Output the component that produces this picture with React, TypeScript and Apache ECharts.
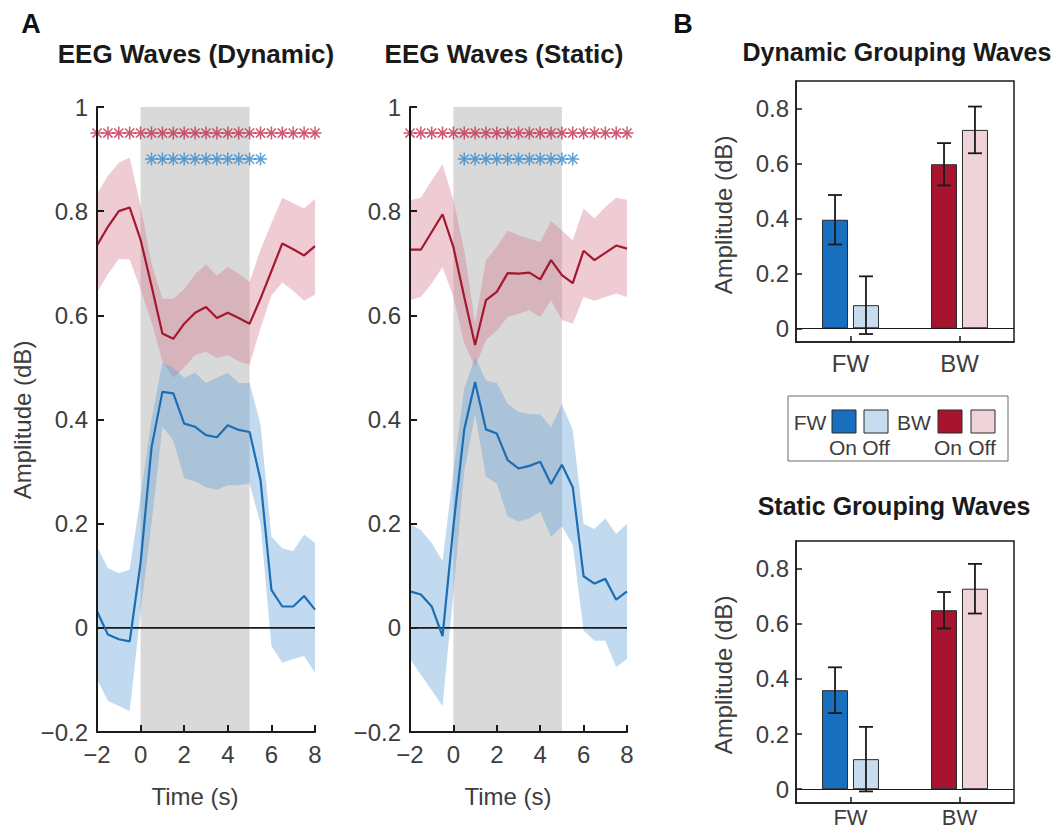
import React, { useEffect, useRef } from "react";
import * as echarts from "echarts";

// ---- time course data (s) ----
const TIME = [-2, -1.5, -1, -0.5, 0, 0.5, 1, 1.5, 2, 2.5, 3, 3.5, 4, 4.5, 5, 5.5, 6, 6.5, 7, 7.5, 8];

// Dynamic condition: backward waves (red) and forward waves (blue)
const DYN_BW_MEAN = [0.734, 0.77, 0.8, 0.807, 0.745, 0.657, 0.565, 0.555, 0.584, 0.605, 0.616, 0.595, 0.605, 0.595, 0.584, 0.632, 0.685, 0.738, 0.727, 0.715, 0.733];
const DYN_BW_HI = [0.833, 0.868, 0.893, 0.903, 0.81, 0.7, 0.632, 0.632, 0.65, 0.679, 0.698, 0.676, 0.693, 0.68, 0.664, 0.726, 0.777, 0.826, 0.815, 0.805, 0.824];
const DYN_BW_LO = [0.644, 0.679, 0.708, 0.707, 0.65, 0.587, 0.512, 0.48, 0.5, 0.524, 0.53, 0.518, 0.524, 0.512, 0.505, 0.575, 0.638, 0.663, 0.647, 0.628, 0.64];
const DYN_FW_MEAN = [0.032, -0.013, -0.022, -0.026, 0.125, 0.346, 0.453, 0.45, 0.392, 0.386, 0.37, 0.366, 0.389, 0.38, 0.376, 0.284, 0.073, 0.041, 0.041, 0.061, 0.035];
const DYN_FW_HI = [0.156, 0.115, 0.105, 0.112, 0.252, 0.4, 0.51, 0.5, 0.48, 0.49, 0.47, 0.48, 0.49, 0.47, 0.47, 0.39, 0.175, 0.153, 0.147, 0.179, 0.163];
const DYN_FW_LO = [-0.099, -0.14, -0.15, -0.16, 0.03, 0.2, 0.386, 0.36, 0.287, 0.281, 0.27, 0.265, 0.274, 0.274, 0.277, 0.2, -0.035, -0.067, -0.06, -0.054, -0.086];

// Static condition
const STA_BW_MEAN = [0.726, 0.726, 0.76, 0.794, 0.731, 0.635, 0.543, 0.629, 0.645, 0.681, 0.68, 0.682, 0.669, 0.706, 0.677, 0.662, 0.724, 0.706, 0.72, 0.734, 0.728];
const STA_BW_HI = [0.821, 0.826, 0.859, 0.89, 0.821, 0.725, 0.585, 0.706, 0.731, 0.763, 0.754, 0.747, 0.741, 0.781, 0.763, 0.744, 0.805, 0.786, 0.808, 0.826, 0.822];
const STA_BW_LO = [0.629, 0.635, 0.661, 0.693, 0.635, 0.546, 0.501, 0.552, 0.571, 0.597, 0.603, 0.61, 0.597, 0.629, 0.591, 0.584, 0.635, 0.628, 0.635, 0.642, 0.635];
const STA_FW_MEAN = [0.07, 0.064, 0.041, -0.016, 0.195, 0.381, 0.472, 0.381, 0.373, 0.322, 0.306, 0.311, 0.319, 0.276, 0.313, 0.27, 0.099, 0.085, 0.094, 0.054, 0.07];
const STA_FW_HI = [0.2, 0.188, 0.163, 0.128, 0.3, 0.46, 0.52, 0.475, 0.47, 0.43, 0.415, 0.41, 0.41, 0.385, 0.43, 0.38, 0.2, 0.19, 0.21, 0.18, 0.2];
const STA_FW_LO = [-0.06, -0.09, -0.12, -0.15, 0.067, 0.3, 0.41, 0.29, 0.277, 0.214, 0.204, 0.21, 0.223, 0.175, 0.195, 0.16, -0.005, -0.025, -0.025, -0.075, -0.06];

// Significance markers
const SIG_BW_TIMES = TIME;
const SIG_FW_TIMES = [0.5, 1, 1.5, 2, 2.5, 3, 3.5, 4, 4.5, 5, 5.5];
const SIG_BW_LEVEL = 0.95;
const SIG_FW_LEVEL = 0.9;

// Stimulus window (s)
const STIM_ON = 0;
const STIM_OFF = 5;

// Axis ranges / ticks
const T_MIN = -2;
const T_MAX = 8;
const T_STEP = 2;
const AMP_MIN = -0.2;
const AMP_MAX = 1;
const AMP_STEP = 0.2;
const BAR_MIN = -0.05;
const BAR_MAX = 0.9;
const BAR_TICKS = [0, 0.2, 0.4, 0.6, 0.8];

// ---- bar chart data ----
const WAVE_CATS = ["FW", "BW"];
const DYN_BAR_ON = [0.395, 0.597];
const DYN_BAR_ON_ERR = [0.09, 0.077];
const DYN_BAR_OFF = [0.084, 0.722];
const DYN_BAR_OFF_ERR = [0.105, 0.085];
const STA_BAR_ON = [0.359, 0.649];
const STA_BAR_ON_ERR = [0.083, 0.066];
const STA_BAR_OFF = [0.109, 0.727];
const STA_BAR_OFF_ERR = [0.117, 0.09];

// ---- styles ----
const FONT = '"Liberation Sans", Arial, Helvetica, sans-serif';
const AXIS_COLOR = "#1a1a1a";
const LABEL_COLOR = "#3d3d3d";
const RED_LINE = "#a3182f";
const RED_BAND = "rgba(212,118,142,0.38)";
const RED_STAR = "#c4304f";
const BLUE_LINE = "#1c6db3";
const BLUE_BAND = "rgba(100,162,216,0.4)";
const BLUE_STAR = "#3489cc";
const STIM_FILL = "#d9d9d9";
const FW_ON_COLOR = "#176fbd";
const FW_OFF_COLOR = "#c7ddef";
const BW_ON_COLOR = "#a6142f";
const BW_OFF_COLOR = "#f0d2d9";
const BAR_WIDTH = 26;
const BAR_GAP = 0.19;
const CAP_HALF = 7;

const STAR_PATH =
  "path://M0 -6L0 6M-6 0L6 0M-4.24 -4.24L4.24 4.24M-4.24 4.24L4.24 -4.24";

const minusFmt = (v: number) => {
  const s = String(Math.round(v * 100) / 100);
  return s.replace("-", "\u2212");
};

function lineAxes(gridIndex: number) {
  const common = {
    gridIndex,
    z: 10,
    splitLine: { show: false },
    axisLine: { show: true, onZero: false, lineStyle: { color: AXIS_COLOR, width: 2 } },
    axisTick: { show: true, inside: true, length: 7, lineStyle: { color: AXIS_COLOR, width: 2 } },
  };
  const x = {
    ...common,
    type: "value",
    min: T_MIN,
    max: T_MAX,
    interval: T_STEP,
    axisLabel: { fontSize: 24, fontFamily: FONT, color: LABEL_COLOR, margin: 10, formatter: minusFmt },
  };
  const y = {
    ...common,
    type: "value",
    min: AMP_MIN,
    max: AMP_MAX,
    interval: AMP_STEP,
    axisLabel: { fontSize: 24, fontFamily: FONT, color: LABEL_COLOR, margin: 9, formatter: minusFmt },
  };
  return { x, y };
}

function barAxes(gridIndex: number, labelSize: number, labelMargin: number) {
  const x = {
    gridIndex,
    type: "category",
    data: WAVE_CATS,
    z: 10,
    axisLine: { show: true, onZero: false, lineStyle: { color: AXIS_COLOR, width: 1.5 } },
    axisTick: { show: true, inside: true, alignWithLabel: true, length: 6, lineStyle: { color: AXIS_COLOR, width: 1.5 } },
    axisLabel: { fontSize: labelSize, fontFamily: FONT, color: LABEL_COLOR, margin: labelMargin },
    splitLine: { show: false },
  };
  const y = {
    gridIndex,
    type: "value",
    min: BAR_MIN,
    max: BAR_MAX,
    z: 10,
    axisLine: { show: true, onZero: false, lineStyle: { color: AXIS_COLOR, width: 1.5 } },
    axisTick: { show: true, inside: true, length: 6, customValues: BAR_TICKS, lineStyle: { color: AXIS_COLOR, width: 1.5 } },
    axisLabel: { fontSize: 24, fontFamily: FONT, color: LABEL_COLOR, margin: 7, customValues: BAR_TICKS, formatter: minusFmt },
    splitLine: { show: false },
  };
  return { x, y };
}

function stimSeries(axisIndex: number) {
  return {
    type: "custom",
    xAxisIndex: axisIndex,
    yAxisIndex: axisIndex,
    silent: true,
    data: [[STIM_ON, AMP_MIN]],
    renderItem: (_p: any, api: any) => {
      const a = api.coord([STIM_ON, AMP_MAX]);
      const b = api.coord([STIM_OFF, AMP_MIN]);
      return {
        type: "rect",
        shape: { x: a[0], y: a[1], width: b[0] - a[0], height: b[1] - a[1] },
        style: { fill: STIM_FILL },
      };
    },
  };
}

function bandSeries(axisIndex: number, lo: number[], hi: number[], fill: string) {
  return {
    type: "custom",
    xAxisIndex: axisIndex,
    yAxisIndex: axisIndex,
    silent: true,
    data: [[TIME[0], lo[0]]],
    renderItem: (_p: any, api: any) => {
      const pts: number[][] = [];
      TIME.forEach((t, i) => pts.push(api.coord([t, hi[i]])));
      for (let i = TIME.length - 1; i >= 0; i--) pts.push(api.coord([TIME[i], lo[i]]));
      return { type: "polygon", shape: { points: pts }, style: { fill } };
    },
  };
}

function meanSeries(axisIndex: number, values: number[], color: string) {
  return {
    type: "line",
    xAxisIndex: axisIndex,
    yAxisIndex: axisIndex,
    silent: true,
    symbol: "none",
    data: TIME.map((t, i) => [t, values[i]]),
    lineStyle: { color, width: 2.2 },
  };
}

function zeroLine(axisIndex: number) {
  return {
    type: "line",
    xAxisIndex: axisIndex,
    yAxisIndex: axisIndex,
    silent: true,
    symbol: "none",
    data: [
      [T_MIN, 0],
      [T_MAX, 0],
    ],
    lineStyle: { color: AXIS_COLOR, width: 1.8 },
  };
}

function starSeries(axisIndex: number, times: number[], level: number, color: string) {
  return {
    type: "scatter",
    xAxisIndex: axisIndex,
    yAxisIndex: axisIndex,
    silent: true,
    symbol: STAR_PATH,
    symbolSize: 13,
    data: times.map((t) => [t, level]),
    itemStyle: { color: "transparent", borderColor: color, borderWidth: 1.5 },
  };
}

function panelSeries(
  axisIndex: number,
  bwMean: number[],
  bwLo: number[],
  bwHi: number[],
  fwMean: number[],
  fwLo: number[],
  fwHi: number[]
) {
  return [
    stimSeries(axisIndex),
    bandSeries(axisIndex, bwLo, bwHi, RED_BAND),
    bandSeries(axisIndex, fwLo, fwHi, BLUE_BAND),
    zeroLine(axisIndex),
    meanSeries(axisIndex, bwMean, RED_LINE),
    meanSeries(axisIndex, fwMean, BLUE_LINE),
    starSeries(axisIndex, SIG_BW_TIMES, SIG_BW_LEVEL, RED_STAR),
    starSeries(axisIndex, SIG_FW_TIMES, SIG_FW_LEVEL, BLUE_STAR),
  ];
}

function barSeries(axisIndex: number, on: number[], onErr: number[], off: number[], offErr: number[]) {
  const onColors = [FW_ON_COLOR, BW_ON_COLOR];
  const offColors = [FW_OFF_COLOR, BW_OFF_COLOR];
  const barCommon = {
    type: "bar",
    xAxisIndex: axisIndex,
    yAxisIndex: axisIndex,
    silent: true,
    barWidth: BAR_WIDTH,
    barGap: `${BAR_GAP * 100}%`,
  };
  const onBars = {
    ...barCommon,
    name: "On",
    data: on.map((v, i) => ({ value: v, itemStyle: { color: onColors[i], borderColor: "#2a2a2a", borderWidth: 1 } })),
    markLine: {
      silent: true,
      symbol: ["none", "none"],
      label: { show: false },
      lineStyle: { color: AXIS_COLOR, width: 1.2, type: "solid" },
      data: [{ yAxis: 0 }],
    },
  };
  const offBars = {
    ...barCommon,
    name: "Off",
    data: off.map((v, i) => ({ value: v, itemStyle: { color: offColors[i], borderColor: "#2a2a2a", borderWidth: 1 } })),
  };
  const errData: number[][] = [];
  on.forEach((v, i) => errData.push([i, v, onErr[i], 0]));
  off.forEach((v, i) => errData.push([i, v, offErr[i], 1]));
  const errors = {
    type: "custom",
    xAxisIndex: axisIndex,
    yAxisIndex: axisIndex,
    silent: true,
    z: 5,
    data: errData,
    renderItem: (_p: any, api: any) => {
      const cat = api.value(0);
      const mean = api.value(1);
      const err = api.value(2);
      const side = api.value(3) === 0 ? -1 : 1;
      const shift = (side * BAR_WIDTH * (1 + BAR_GAP)) / 2;
      const top = api.coord([cat, mean + err]);
      const bot = api.coord([cat, mean - err]);
      const x = top[0] + shift;
      const style = { stroke: AXIS_COLOR, lineWidth: 1.8 };
      return {
        type: "group",
        children: [
          { type: "line", shape: { x1: x, y1: top[1], x2: x, y2: bot[1] }, style },
          { type: "line", shape: { x1: x - CAP_HALF, y1: top[1], x2: x + CAP_HALF, y2: top[1] }, style },
          { type: "line", shape: { x1: x - CAP_HALF, y1: bot[1], x2: x + CAP_HALF, y2: bot[1] }, style },
        ],
      };
    },
  };
  return [onBars, offBars, errors];
}

function txt(text: string, x: number, y: number, size: number, bold: boolean, color: string, rotation = 0, align = "center") {
  return {
    type: "text",
    x,
    y,
    rotation,
    silent: true,
    style: {
      text,
      fontSize: size,
      fontWeight: bold ? "bold" : "normal",
      fontFamily: FONT,
      fill: color,
      align,
      verticalAlign: "middle",
    },
  };
}

function swatch(x: number, y: number, fill: string) {
  return {
    type: "rect",
    silent: true,
    shape: { x, y, width: 24, height: 23 },
    style: { fill, stroke: "#2a2a2a", lineWidth: 1 },
  };
}

function buildOption() {
  const a0 = lineAxes(0);
  const a1 = lineAxes(1);
  const b2 = barAxes(2, 24, 9);
  const b3 = barAxes(3, 22, 3);
  const boxed = { show: true, borderColor: AXIS_COLOR, borderWidth: 1.5, backgroundColor: "transparent" };
  return {
    animation: false,
    backgroundColor: "#ffffff",
    grid: [
      { left: 97, top: 107, width: 218, height: 625, outerBoundsMode: "none" },
      { left: 410, top: 107, width: 217, height: 625, outerBoundsMode: "none" },
      { left: 796, top: 81, width: 218, height: 261, outerBoundsMode: "none", ...boxed },
      { left: 796, top: 541, width: 218, height: 262, outerBoundsMode: "none", ...boxed },
    ],
    xAxis: [a0.x, a1.x, b2.x, b3.x],
    yAxis: [a0.y, a1.y, b2.y, b3.y],
    series: [
      ...panelSeries(0, DYN_BW_MEAN, DYN_BW_LO, DYN_BW_HI, DYN_FW_MEAN, DYN_FW_LO, DYN_FW_HI),
      ...panelSeries(1, STA_BW_MEAN, STA_BW_LO, STA_BW_HI, STA_FW_MEAN, STA_FW_LO, STA_FW_HI),
      ...barSeries(2, DYN_BAR_ON, DYN_BAR_ON_ERR, DYN_BAR_OFF, DYN_BAR_OFF_ERR),
      ...barSeries(3, STA_BAR_ON, STA_BAR_ON_ERR, STA_BAR_OFF, STA_BAR_OFF_ERR),
    ],
    graphic: [
      txt("A", 31, 24, 27, true, "#111"),
      txt("B", 683, 24, 27, true, "#111"),
      txt("EEG Waves (Dynamic)", 196, 54, 26, true, "#1a1a1a"),
      txt("EEG Waves (Static)", 504, 54, 26, true, "#1a1a1a"),
      txt("Dynamic Grouping Waves", 897, 52, 25, true, "#1a1a1a"),
      txt("Static Grouping Waves", 894, 506, 25, true, "#1a1a1a"),
      txt("Amplitude (dB)", 22, 420, 24, false, LABEL_COLOR, Math.PI / 2),
      txt("Amplitude (dB)", 723, 215, 24, false, LABEL_COLOR, Math.PI / 2),
      txt("Amplitude (dB)", 723, 675, 24, false, LABEL_COLOR, Math.PI / 2),
      txt("Time (s)", 195, 796, 24, false, LABEL_COLOR),
      txt("Time (s)", 508, 796, 24, false, LABEL_COLOR),
      // legend
      {
        type: "rect",
        silent: true,
        shape: { x: 788, y: 396, width: 220, height: 65 },
        style: { fill: "#fff", stroke: "#6a6a6a", lineWidth: 1 },
      },
      txt("FW", 810, 422, 21, false, LABEL_COLOR),
      swatch(832, 410, FW_ON_COLOR),
      swatch(864, 410, FW_OFF_COLOR),
      txt("BW", 914, 422, 21, false, LABEL_COLOR),
      swatch(938, 410, BW_ON_COLOR),
      swatch(971, 410, BW_OFF_COLOR),
      txt("On", 843, 447, 21, false, LABEL_COLOR),
      txt("Off", 876, 447, 21, false, LABEL_COLOR),
      txt("On", 948, 447, 21, false, LABEL_COLOR),
      txt("Off", 982, 447, 21, false, LABEL_COLOR),
    ],
  };
}

export default function App() {
  const ref = useRef<HTMLDivElement>(null);
  useEffect(() => {
    document.body.style.margin = "0";
    const chart = echarts.init(ref.current!, null, { renderer: "svg" });
    chart.setOption(buildOption() as any);
    return () => chart.dispose();
  }, []);
  return <div ref={ref} style={{ width: 1064, height: 833 }} />;
}
